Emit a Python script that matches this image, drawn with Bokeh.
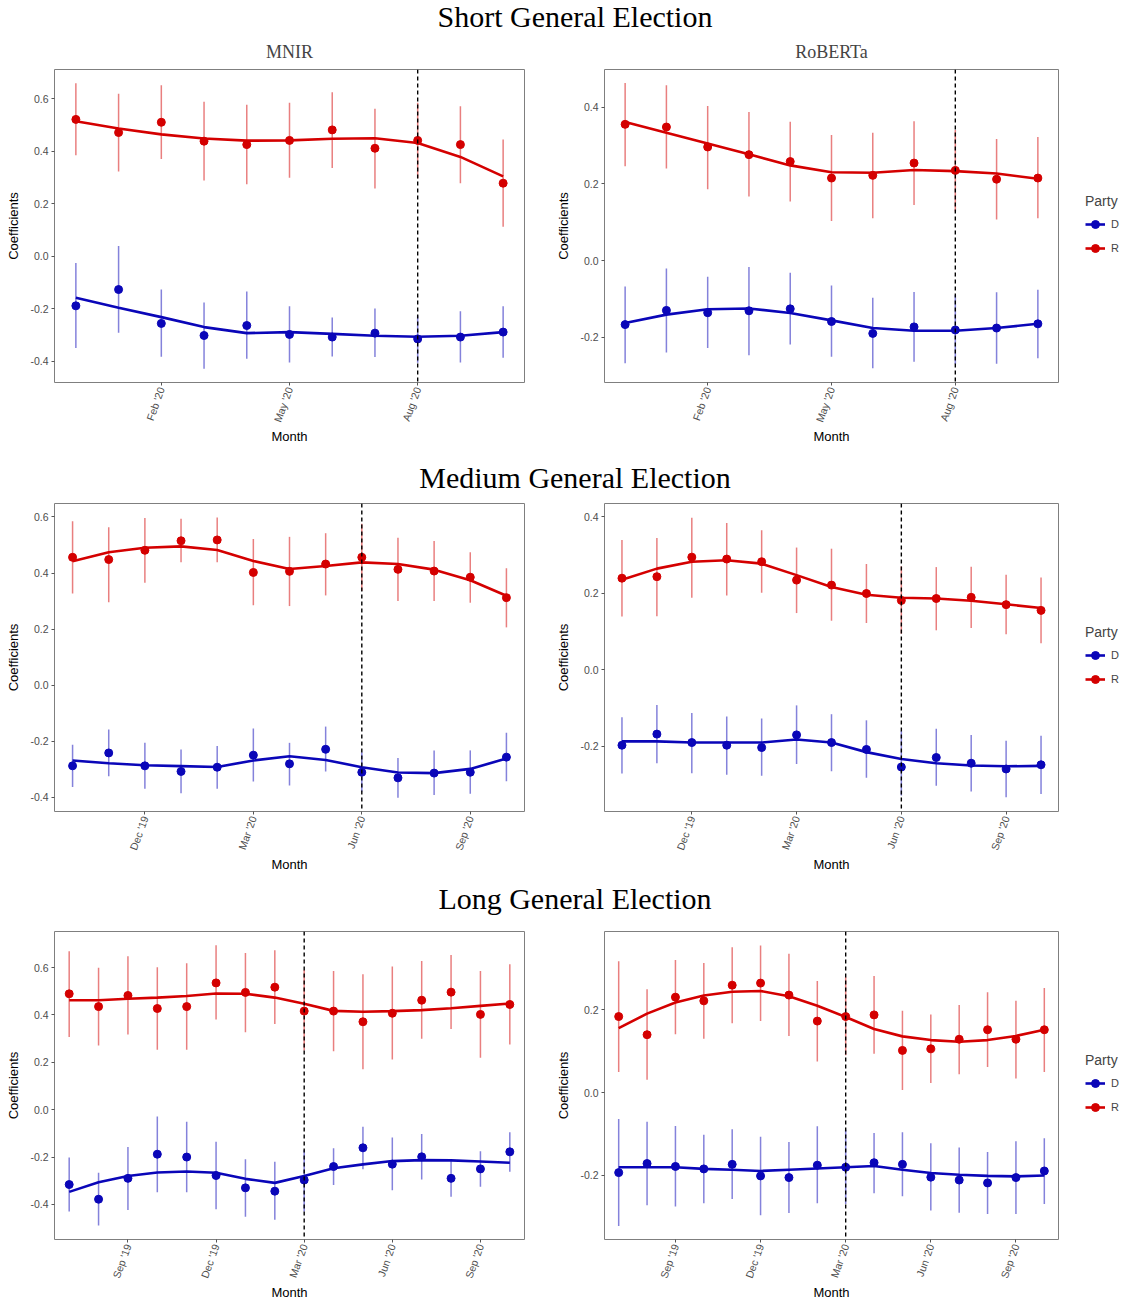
from bokeh.plotting import figure
from bokeh.layouts import column, row
from bokeh.models import Range1d, FixedTicker, NumeralTickFormatter, Span, Legend, LegendItem, Div
from bokeh.embed import file_html
from bokeh.resources import INLINE

# ---------------- data ----------------
short_months = ["Dec '19", "Jan '20", "Feb '20", "Mar '20", "Apr '20", "May '20",
                "Jun '20", "Jul '20", "Aug '20", "Sep '20", "Oct '20"]
medium_months = ["Oct '19", "Nov '19", "Dec '19", "Jan '20", "Feb '20", "Mar '20", "Apr '20",
                 "May '20", "Jun '20", "Jul '20", "Aug '20", "Sep '20", "Oct '20"]
long_months = ["Jul '19", "Aug '19", "Sep '19", "Oct '19", "Nov '19", "Dec '19", "Jan '20", "Feb '20",
               "Mar '20", "Apr '20", "May '20", "Jun '20", "Jul '20", "Aug '20", "Sep '20", "Oct '20"]
short_ticks = ["Feb '20", "May '20", "Aug '20"]
medium_ticks = ["Dec '19", "Mar '20", "Jun '20", "Sep '20"]
long_ticks = ["Sep '19", "Dec '19", "Mar '20", "Jun '20", "Sep '20"]
short_cutoff = "Aug '20"
medium_cutoff = "Jun '20"
long_cutoff = "Mar '20"

row_titles = ["Short General Election", "Medium General Election", "Long General Election"]
model_titles = ["MNIR", "RoBERTa"]
parties = ["D", "R"]

mnir_yticks = [-0.4, -0.2, 0.0, 0.2, 0.4, 0.6]
roberta_yticks = [-0.2, 0.0, 0.2, 0.4]
roberta_long_yticks = [-0.2, 0.0, 0.2]

# Short / MNIR
s_mnir_R = [0.522, 0.472, 0.511, 0.439, 0.426, 0.442, 0.482, 0.412, 0.442, 0.426, 0.279]
s_mnir_R_hi = [0.660, 0.620, 0.652, 0.589, 0.578, 0.585, 0.625, 0.563, 0.585, 0.572, 0.445]
s_mnir_R_lo = [0.385, 0.324, 0.371, 0.289, 0.275, 0.300, 0.337, 0.259, 0.298, 0.279, 0.113]
s_mnir_R_fit = [0.515, 0.487, 0.465, 0.449, 0.441, 0.442, 0.448, 0.450, 0.432, 0.379, 0.305]
s_mnir_D = [-0.188, -0.126, -0.255, -0.301, -0.263, -0.297, -0.307, -0.292, -0.314, -0.307, -0.288]
s_mnir_D_hi = [-0.025, 0.040, -0.126, -0.175, -0.133, -0.190, -0.232, -0.198, -0.225, -0.209, -0.190]
s_mnir_D_lo = [-0.349, -0.291, -0.382, -0.428, -0.390, -0.404, -0.381, -0.383, -0.405, -0.404, -0.386]
s_mnir_D_fit = [-0.157, -0.195, -0.231, -0.269, -0.292, -0.288, -0.295, -0.302, -0.306, -0.302, -0.288]

# Short / RoBERTa
s_rob_R = [0.355, 0.348, 0.296, 0.276, 0.258, 0.215, 0.222, 0.254, 0.235, 0.212, 0.215]
s_rob_R_hi = [0.463, 0.457, 0.403, 0.387, 0.362, 0.327, 0.333, 0.363, 0.340, 0.317, 0.322]
s_rob_R_lo = [0.246, 0.240, 0.186, 0.167, 0.154, 0.103, 0.110, 0.145, 0.128, 0.107, 0.110]
s_rob_R_fit = [0.361, 0.333, 0.305, 0.277, 0.248, 0.230, 0.229, 0.236, 0.233, 0.227, 0.213]
s_rob_D = [-0.167, -0.130, -0.136, -0.131, -0.126, -0.159, -0.190, -0.173, -0.181, -0.176, -0.165]
s_rob_D_hi = [-0.068, -0.021, -0.042, -0.017, -0.032, -0.065, -0.097, -0.082, -0.090, -0.083, -0.076]
s_rob_D_lo = [-0.268, -0.240, -0.228, -0.247, -0.219, -0.251, -0.281, -0.264, -0.270, -0.269, -0.255]
s_rob_D_fit = [-0.163, -0.141, -0.127, -0.125, -0.137, -0.156, -0.176, -0.183, -0.183, -0.176, -0.165]

# Medium / MNIR
m_mnir_R = [0.456, 0.448, 0.481, 0.515, 0.518, 0.402, 0.406, 0.432, 0.456, 0.413, 0.407, 0.385, 0.312]
m_mnir_R_hi = [0.585, 0.563, 0.596, 0.594, 0.598, 0.521, 0.529, 0.542, 0.576, 0.526, 0.514, 0.474, 0.417]
m_mnir_R_lo = [0.327, 0.296, 0.365, 0.438, 0.438, 0.285, 0.282, 0.320, 0.336, 0.300, 0.300, 0.294, 0.206]
m_mnir_R_fit = [0.442, 0.474, 0.490, 0.495, 0.482, 0.443, 0.414, 0.425, 0.438, 0.432, 0.412, 0.374, 0.319]
m_mnir_D = [-0.288, -0.242, -0.288, -0.308, -0.293, -0.250, -0.281, -0.229, -0.311, -0.331, -0.314, -0.311, -0.257]
m_mnir_D_hi = [-0.213, -0.158, -0.206, -0.230, -0.217, -0.155, -0.206, -0.148, -0.240, -0.260, -0.233, -0.233, -0.170]
m_mnir_D_lo = [-0.364, -0.325, -0.370, -0.386, -0.370, -0.344, -0.358, -0.308, -0.380, -0.402, -0.392, -0.388, -0.343]
m_mnir_D_fit = [-0.269, -0.279, -0.286, -0.289, -0.292, -0.269, -0.254, -0.267, -0.293, -0.312, -0.314, -0.299, -0.262]

# Medium / RoBERTa
m_rob_R = [0.239, 0.243, 0.294, 0.289, 0.282, 0.234, 0.221, 0.199, 0.181, 0.186, 0.189, 0.170, 0.155]
m_rob_R_hi = [0.339, 0.344, 0.397, 0.383, 0.364, 0.319, 0.316, 0.276, 0.270, 0.268, 0.269, 0.248, 0.241]
m_rob_R_lo = [0.139, 0.140, 0.188, 0.194, 0.201, 0.148, 0.128, 0.122, 0.094, 0.103, 0.109, 0.093, 0.069]
m_rob_R_fit = [0.235, 0.264, 0.282, 0.286, 0.277, 0.247, 0.216, 0.196, 0.188, 0.186, 0.180, 0.171, 0.161]
m_rob_D = [-0.197, -0.168, -0.190, -0.197, -0.203, -0.170, -0.190, -0.208, -0.254, -0.229, -0.244, -0.259, -0.248]
m_rob_D_hi = [-0.124, -0.092, -0.113, -0.122, -0.127, -0.093, -0.116, -0.132, -0.160, -0.154, -0.170, -0.185, -0.172]
m_rob_D_lo = [-0.271, -0.244, -0.270, -0.274, -0.277, -0.246, -0.265, -0.282, -0.328, -0.303, -0.318, -0.333, -0.324]
m_rob_D_fit = [-0.187, -0.187, -0.190, -0.190, -0.190, -0.182, -0.190, -0.215, -0.233, -0.244, -0.250, -0.252, -0.251]

# Long / MNIR
l_mnir_R = [0.489, 0.435, 0.482, 0.427, 0.435, 0.535, 0.495, 0.517, 0.416, 0.416, 0.371, 0.407, 0.462, 0.496, 0.402, 0.444]
l_mnir_R_hi = [0.669, 0.599, 0.648, 0.601, 0.618, 0.694, 0.661, 0.673, 0.590, 0.585, 0.572, 0.604, 0.628, 0.653, 0.585, 0.614]
l_mnir_R_lo = [0.307, 0.271, 0.317, 0.253, 0.253, 0.381, 0.327, 0.362, 0.250, 0.247, 0.171, 0.212, 0.299, 0.340, 0.219, 0.275]
l_mnir_R_fit = [0.462, 0.462, 0.468, 0.473, 0.480, 0.490, 0.489, 0.473, 0.447, 0.417, 0.413, 0.416, 0.420, 0.428, 0.438, 0.448]
l_mnir_D = [-0.316, -0.378, -0.290, -0.188, -0.200, -0.278, -0.330, -0.344, -0.297, -0.240, -0.161, -0.230, -0.199, -0.290, -0.250, -0.178]
l_mnir_D_hi = [-0.202, -0.266, -0.158, -0.029, -0.051, -0.135, -0.209, -0.220, -0.170, -0.163, -0.072, -0.117, -0.103, -0.212, -0.175, -0.095]
l_mnir_D_lo = [-0.430, -0.489, -0.424, -0.349, -0.349, -0.420, -0.452, -0.465, -0.430, -0.318, -0.252, -0.340, -0.295, -0.368, -0.325, -0.262]
l_mnir_D_fit = [-0.347, -0.306, -0.280, -0.265, -0.261, -0.266, -0.292, -0.309, -0.280, -0.247, -0.231, -0.217, -0.213, -0.214, -0.219, -0.224]

# Long / RoBERTa
l_rob_R = [0.184, 0.140, 0.231, 0.222, 0.260, 0.265, 0.236, 0.173, 0.184, 0.188, 0.102, 0.106, 0.129, 0.152, 0.129, 0.152]
l_rob_R_hi = [0.318, 0.250, 0.321, 0.314, 0.352, 0.356, 0.336, 0.270, 0.280, 0.282, 0.198, 0.189, 0.212, 0.243, 0.222, 0.253]
l_rob_R_lo = [0.050, 0.031, 0.141, 0.130, 0.168, 0.173, 0.137, 0.075, 0.090, 0.094, 0.006, 0.023, 0.044, 0.062, 0.034, 0.050]
l_rob_R_fit = [0.156, 0.191, 0.218, 0.235, 0.244, 0.246, 0.233, 0.210, 0.183, 0.154, 0.136, 0.127, 0.123, 0.127, 0.137, 0.152]
l_rob_D = [-0.194, -0.172, -0.179, -0.185, -0.174, -0.202, -0.206, -0.176, -0.181, -0.170, -0.174, -0.205, -0.212, -0.219, -0.206, -0.190]
l_rob_D_hi = [-0.064, -0.071, -0.081, -0.102, -0.089, -0.107, -0.120, -0.082, -0.090, -0.098, -0.096, -0.123, -0.133, -0.144, -0.118, -0.111]
l_rob_D_lo = [-0.323, -0.273, -0.276, -0.268, -0.258, -0.297, -0.292, -0.268, -0.270, -0.244, -0.251, -0.286, -0.291, -0.294, -0.294, -0.270]
l_rob_D_fit = [-0.181, -0.181, -0.181, -0.185, -0.187, -0.190, -0.187, -0.184, -0.181, -0.178, -0.187, -0.195, -0.199, -0.202, -0.203, -0.201]

# ---------------- style / layout ----------------
RED = "#D40000"
BLUE = "#0A06B8"
SANS = "Liberation Sans"
SERIF = "Liberation Serif"

TOTAL_W = 1130
L_BL, L_FW, L_BR = 54, 470, 29
R_BL, R_FW, R_BR = 48, 454, 75
LEG_H = 64


def panel(months, ticks, cutoff, yr, yticks, series, fh, bt, bb, legend=False, title=None):
    (R, R_lo, R_hi, R_fit, D, D_lo, D_hi, D_fit) = series
    n = len(months)
    x = list(range(n))
    if legend:
        bl, fw, br = R_BL, R_FW, R_BR
    else:
        bl, fw, br = L_BL, L_FW, L_BR
    p = figure(frame_width=fw, frame_height=fh, min_border_left=bl, min_border_right=br,
               min_border_top=bt, min_border_bottom=bb,
               x_range=Range1d(-0.5, n - 0.5), y_range=Range1d(yr[0], yr[1]),
               toolbar_location=None, output_backend="svg")
    if title:
        p.title.text = title
        p.title.align = "center"
        p.title.text_font = SERIF
        p.title.text_font_size = "18px"
        p.title.text_font_style = "normal"
        p.title.standoff = 16
    p.grid.visible = False
    p.outline_line_color = "#7f7f7f"
    p.outline_line_width = 1
    p.background_fill_color = "white"
    p.border_fill_color = "white"

    p.xaxis.ticker = FixedTicker(ticks=[months.index(t) for t in ticks])
    p.xaxis.major_label_overrides = {months.index(t): t for t in ticks}
    p.xaxis.major_label_orientation = 1.2217
    p.yaxis.ticker = FixedTicker(ticks=yticks)
    p.yaxis.formatter = NumeralTickFormatter(format="0.0")
    p.xaxis.axis_label = "Month"
    p.yaxis.axis_label = "Coefficients"
    for ax in (p.xaxis, p.yaxis):
        ax.axis_line_color = None
        ax.major_tick_line_color = "#555555"
        ax.major_tick_in = 0
        ax.major_tick_out = 3
        ax.minor_tick_line_color = None
        ax.major_label_text_font = SANS
        ax.major_label_text_font_size = "10.5px"
        ax.major_label_text_color = "#4d4d4d"
        ax.axis_label_text_font = SANS
        ax.axis_label_text_font_size = "13px"
        ax.axis_label_text_font_style = "normal"
        ax.axis_label_text_color = "black"
    p.xaxis.major_label_standoff = 2
    p.xaxis.axis_label_standoff = 0
    p.yaxis.major_label_standoff = 3
    p.yaxis.axis_label_standoff = 6

    p.segment(x0=x, y0=R_lo, x1=x, y1=R_hi, line_color=RED, line_alpha=0.5, line_width=1.5)
    p.segment(x0=x, y0=D_lo, x1=x, y1=D_hi, line_color=BLUE, line_alpha=0.5, line_width=1.5)
    rl = p.line(x, R_fit, line_color=RED, line_width=2.6)
    dl = p.line(x, D_fit, line_color=BLUE, line_width=2.6)
    rs = p.scatter(x, R, size=8, fill_color=RED, line_color=RED)
    ds = p.scatter(x, D, size=8, fill_color=BLUE, line_color=BLUE)

    p.add_layout(Span(location=months.index(cutoff), dimension="height", line_color="black",
                      line_dash="4 3", line_width=1.4))

    if legend:
        leg = Legend(items=[LegendItem(label=parties[0], renderers=[dl, ds]),
                            LegendItem(label=parties[1], renderers=[rl, rs])],
                     title="Party", location=(27, (fh - LEG_H) / 2),
                     padding=6, margin=0, spacing=4, glyph_width=20, glyph_height=20,
                     label_height=20, label_standoff=6, title_standoff=5,
                     border_line_color=None, background_fill_alpha=0,
                     label_text_font=SANS, label_text_font_size="11px",
                     title_text_font=SANS, title_text_font_size="14px",
                     title_text_font_style="normal")
        p.add_layout(leg, "right")
    return p


def title_div(text, h, shift):
    html = ('<div style="box-sizing:border-box;width:%dpx;padding-left:20px;text-align:center;'
            'font-family:\'Liberation Serif\',serif;font-size:30px;line-height:%dpx;'
            'position:relative;top:%dpx;color:black;white-space:nowrap;">%s</div>'
            % (TOTAL_W, h, shift, text))
    return Div(text=html, width=TOTAL_W, height=h, margin=0)


d1 = title_div(row_titles[0], 30, 2)
d2 = title_div(row_titles[1], 43, 4)
d3 = title_div(row_titles[2], 42, -3)

p1 = panel(short_months, short_ticks, short_cutoff, (-0.48, 0.712), mnir_yticks,
           (s_mnir_R, s_mnir_R_lo, s_mnir_R_hi, s_mnir_R_fit, s_mnir_D, s_mnir_D_lo, s_mnir_D_hi, s_mnir_D_fit),
           313, 39, 70, title=model_titles[0])
p2 = panel(short_months, short_ticks, short_cutoff, (-0.318, 0.498), roberta_yticks,
           (s_rob_R, s_rob_R_lo, s_rob_R_hi, s_rob_R_fit, s_rob_D, s_rob_D_lo, s_rob_D_hi, s_rob_D_fit),
           313, 39, 70, legend=True, title=model_titles[1])
p3 = panel(medium_months, medium_ticks, medium_cutoff, (-0.451, 0.648), mnir_yticks,
           (m_mnir_R, m_mnir_R_lo, m_mnir_R_hi, m_mnir_R_fit, m_mnir_D, m_mnir_D_lo, m_mnir_D_hi, m_mnir_D_fit),
           308, 8, 70)
p4 = panel(medium_months, medium_ticks, medium_cutoff, (-0.370, 0.434), roberta_yticks,
           (m_rob_R, m_rob_R_lo, m_rob_R_hi, m_rob_R_fit, m_rob_D, m_rob_D_lo, m_rob_D_hi, m_rob_D_fit),
           308, 8, 70, legend=True)
p5 = panel(long_months, long_ticks, long_cutoff, (-0.548, 0.752), mnir_yticks,
           (l_mnir_R, l_mnir_R_lo, l_mnir_R_hi, l_mnir_R_fit, l_mnir_D, l_mnir_D_lo, l_mnir_D_hi, l_mnir_D_fit),
           308, 8, 59)
p6 = panel(long_months, long_ticks, long_cutoff, (-0.356, 0.390), roberta_long_yticks,
           (l_rob_R, l_rob_R_lo, l_rob_R_hi, l_rob_R_fit, l_rob_D, l_rob_D_lo, l_rob_D_hi, l_rob_D_fit),
           308, 8, 59, legend=True)

layout = column(d1, row(p1, p2), d2, row(p3, p4), d3, row(p5, p6), spacing=0)

open("out.html", "w").write(file_html(layout, INLINE))
